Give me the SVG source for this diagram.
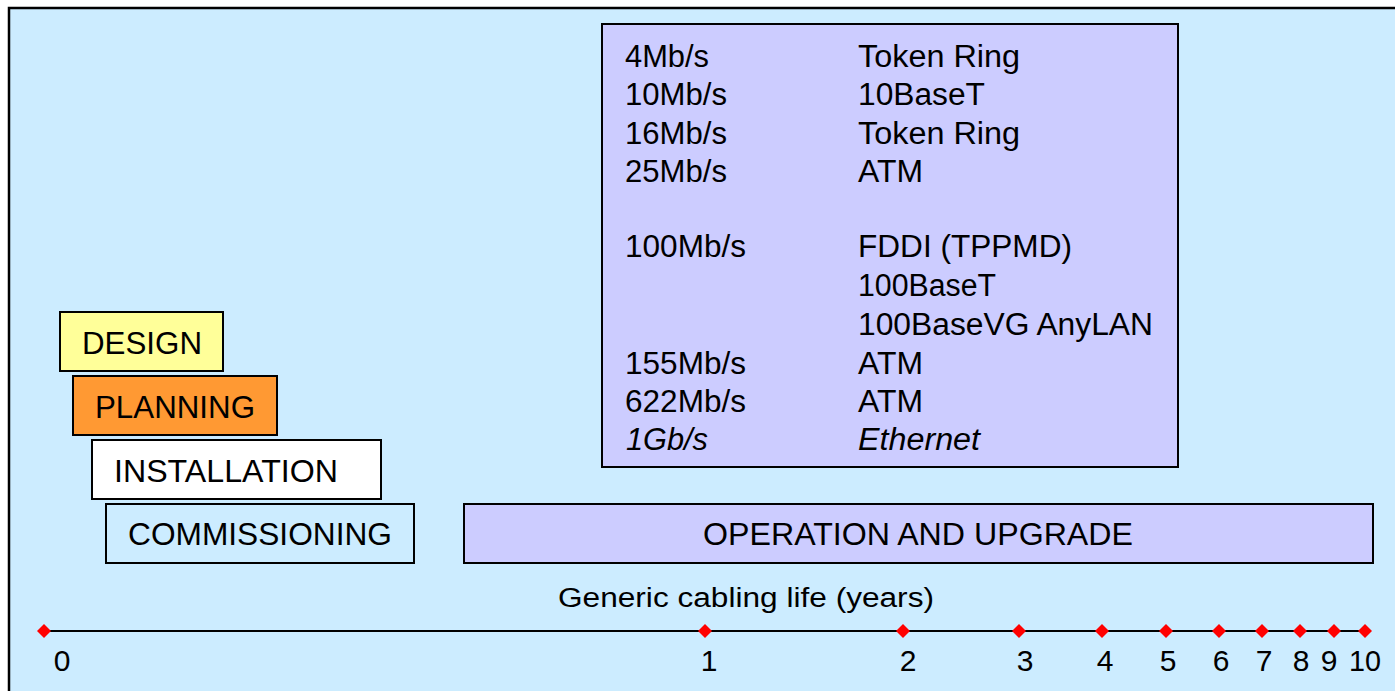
<svg xmlns="http://www.w3.org/2000/svg" width="1395" height="691" viewBox="0 0 1395 691">
<style>
  text { font-family: "Liberation Sans", Arial, sans-serif; fill: #000; }
  .box { stroke: #000; stroke-width: 2; }
  .t31 { font-size: 31px; }
  .dig { font-size: 30px; text-anchor: middle; }
  .it { font-style: italic; }
</style>
<defs>
  <path id="dia" d="M0,-7 L7,0 L0,7 L-7,0 Z" fill="#FF0000"/>
</defs>
<rect x="0" y="0" width="1395" height="691" fill="#FFFFFF"/>
<rect x="9" y="8" width="1400" height="700" fill="#CCECFF" stroke="#000" stroke-width="2.5"/>

<g id="table">
  <rect class="box" x="602" y="24" width="576" height="443" fill="#CCCCFF"/>
  <text class="t31" x="625" y="67" textLength="84" lengthAdjust="spacingAndGlyphs">4Mb/s</text>
  <text class="t31" x="625" y="105" textLength="102" lengthAdjust="spacingAndGlyphs">10Mb/s</text>
  <text class="t31" x="625" y="144" textLength="102" lengthAdjust="spacingAndGlyphs">16Mb/s</text>
  <text class="t31" x="625" y="182" textLength="102" lengthAdjust="spacingAndGlyphs">25Mb/s</text>
  <text class="t31" x="625" y="257" textLength="121" lengthAdjust="spacingAndGlyphs">100Mb/s</text>
  <text class="t31" x="625" y="374" textLength="121" lengthAdjust="spacingAndGlyphs">155Mb/s</text>
  <text class="t31" x="625" y="412" textLength="121" lengthAdjust="spacingAndGlyphs">622Mb/s</text>
  <text class="t31 it" x="626" y="450" textLength="82" lengthAdjust="spacingAndGlyphs">1Gb/s</text>
  <text class="t31" x="858" y="67" textLength="162" lengthAdjust="spacingAndGlyphs">Token Ring</text>
  <text class="t31" x="858" y="105" textLength="127" lengthAdjust="spacingAndGlyphs">10BaseT</text>
  <text class="t31" x="858" y="144" textLength="162" lengthAdjust="spacingAndGlyphs">Token Ring</text>
  <text class="t31" x="858" y="182" textLength="65" lengthAdjust="spacingAndGlyphs">ATM</text>
  <text class="t31" x="858" y="257" textLength="214" lengthAdjust="spacingAndGlyphs">FDDI (TPPMD)</text>
  <text class="t31" x="858" y="296" textLength="138" lengthAdjust="spacingAndGlyphs">100BaseT</text>
  <text class="t31" x="858" y="335" textLength="295" lengthAdjust="spacingAndGlyphs">100BaseVG AnyLAN</text>
  <text class="t31" x="858" y="374" textLength="65" lengthAdjust="spacingAndGlyphs">ATM</text>
  <text class="t31" x="858" y="412" textLength="65" lengthAdjust="spacingAndGlyphs">ATM</text>
  <text class="t31 it" x="858" y="450" textLength="122" lengthAdjust="spacingAndGlyphs">Ethernet</text>
</g>

<g id="design">
  <rect class="box" x="60" y="312" width="163" height="59" fill="#FFFF99"/>
  <text class="t31" x="82" y="354" textLength="120" lengthAdjust="spacingAndGlyphs">DESIGN</text>
</g>
<g id="planning">
  <rect class="box" x="73" y="376" width="204" height="59" fill="#FF9933"/>
  <text class="t31" x="95" y="418" textLength="160" lengthAdjust="spacingAndGlyphs">PLANNING</text>
</g>
<g id="installation">
  <rect class="box" x="92" y="440" width="289" height="59" fill="#FFFFFF"/>
  <text class="t31" x="114" y="482" textLength="224" lengthAdjust="spacingAndGlyphs">INSTALLATION</text>
</g>
<g id="commissioning">
  <rect class="box" x="106" y="504" width="308" height="59" fill="#CCECFF"/>
  <text class="t31" x="128" y="545" textLength="264" lengthAdjust="spacingAndGlyphs">COMMISSIONING</text>
</g>
<g id="operation">
  <rect class="box" x="464" y="504" width="909" height="59" fill="#CCCCFF"/>
  <text class="t31" x="703" y="545" textLength="430" lengthAdjust="spacingAndGlyphs">OPERATION AND UPGRADE</text>
</g>

<g id="axis">
  <text x="558" y="607" font-size="27" textLength="376" lengthAdjust="spacingAndGlyphs">Generic cabling life (years)</text>
  <line x1="44" y1="631" x2="1365" y2="631" stroke="#000" stroke-width="2"/>
  <use href="#dia" x="44" y="631"/>
  <use href="#dia" x="705" y="631"/>
  <use href="#dia" x="903" y="631"/>
  <use href="#dia" x="1019" y="631"/>
  <use href="#dia" x="1102" y="631"/>
  <use href="#dia" x="1166" y="631"/>
  <use href="#dia" x="1219" y="631"/>
  <use href="#dia" x="1262" y="631"/>
  <use href="#dia" x="1300" y="631"/>
  <use href="#dia" x="1334" y="631"/>
  <use href="#dia" x="1365" y="631"/>
  <text class="dig" x="62" y="671">0</text>
  <text class="dig" x="709" y="671">1</text>
  <text class="dig" x="908" y="671">2</text>
  <text class="dig" x="1025" y="671">3</text>
  <text class="dig" x="1105" y="671">4</text>
  <text class="dig" x="1168" y="671">5</text>
  <text class="dig" x="1221" y="671">6</text>
  <text class="dig" x="1264" y="671">7</text>
  <text class="dig" x="1301" y="671">8</text>
  <text class="dig" x="1329" y="671">9</text>
  <text class="dig" x="1365" y="671" textLength="32" lengthAdjust="spacingAndGlyphs">10</text>
</g>
</svg>
